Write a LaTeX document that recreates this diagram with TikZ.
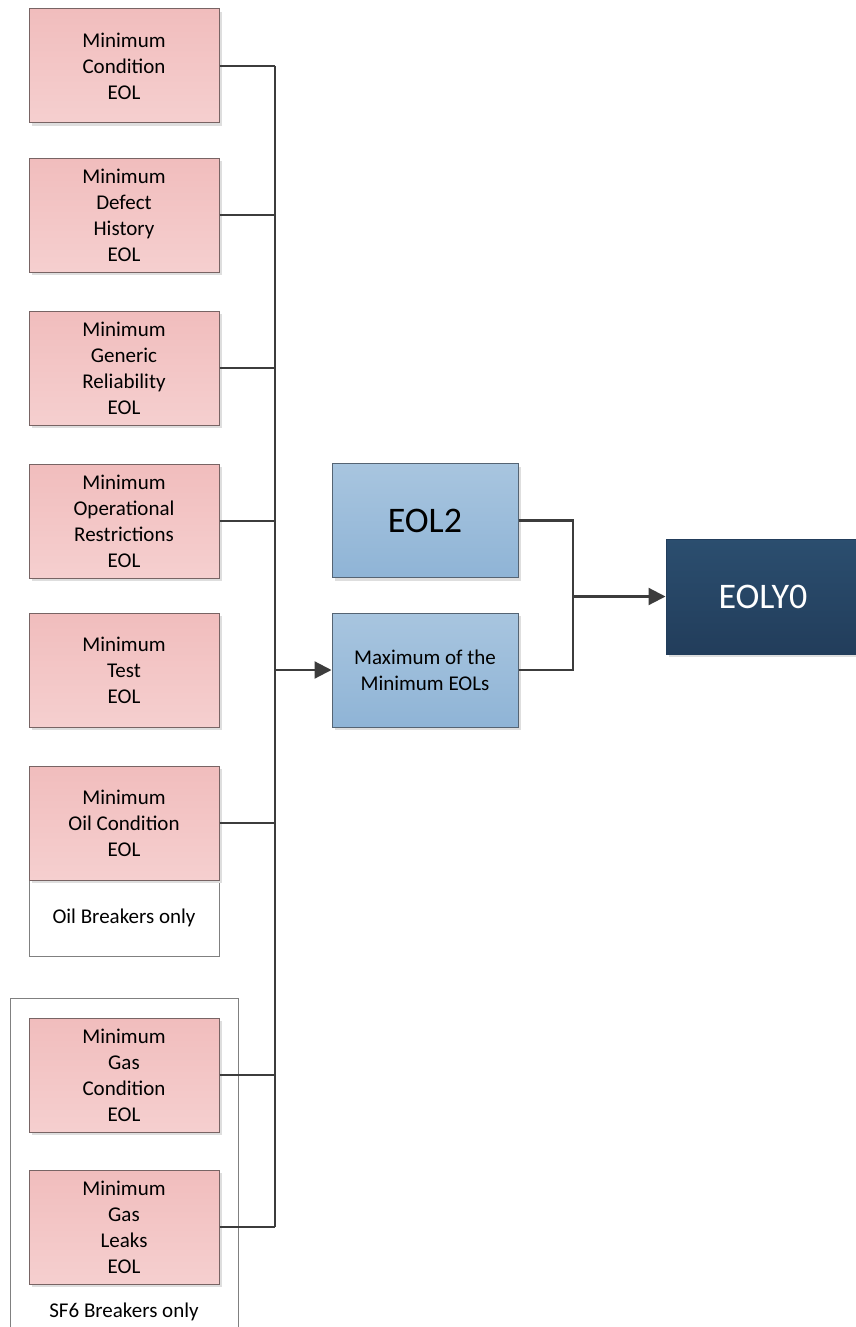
\documentclass[tikz,border=0pt]{standalone}
\usepackage{fontspec}
\setmainfont{Carlito}
\usetikzlibrary{arrows.meta,shadows}
\definecolor{pinkT}{RGB}{241,189,189}
\definecolor{pinkB}{RGB}{245,207,207}
\definecolor{pinkEdge}{RGB}{120,100,100}
\definecolor{blueT}{RGB}{168,197,223}
\definecolor{blueB}{RGB}{143,180,214}
\definecolor{blueEdge}{RGB}{85,100,115}
\definecolor{navyT}{RGB}{43,78,111}
\definecolor{navyB}{RGB}{34,61,91}
\definecolor{wireCol}{RGB}{60,60,60}
\definecolor{frameCol}{RGB}{128,128,128}
\tikzset{
  boxbase/.style={line width=1pt, inner sep=0pt, align=center,
    font=\fontsize{21}{26}\selectfont,
    drop shadow={shadow xshift=3pt, shadow yshift=-3pt, fill=black!13, opacity=1}},
  critbox/.style={boxbase, draw=pinkEdge, top color=pinkT, bottom color=pinkB,
    minimum width=190pt, minimum height=114pt},
  calcbox/.style={boxbase, draw=blueEdge, top color=blueT, bottom color=blueB,
    minimum width=186pt, minimum height=114pt},
  resultbox/.style={boxbase, draw=navyB, top color=navyT, bottom color=navyB,
    minimum width=194pt, minimum height=115pt, text=white,
    font=\fontsize{36}{40}\selectfont},
  notebox/.style={draw=frameCol, line width=0.8pt, fill=white, inner sep=0pt,
    minimum width=190pt, minimum height=76pt, font=\fontsize{21}{26}\selectfont},
  frame/.style={draw=frameCol, line width=0.8pt},
  wire/.style={draw=wireCol, line width=2.2pt},
  arr/.style={-{Triangle[length=17pt,width=17pt]}},
}
\begin{document}
\begin{tikzpicture}[x=1pt,y=-1pt]
\useasboundingbox (0,0) rectangle (856,1327);
\clip (0,0) rectangle (856,1327);
\fill[white] (0,0) rectangle (856,1327);

% SF6 group frame (open at the bottom of the page)
\draw[frame] (10,1340) -- (10,998) -- (238,998) -- (238,1340);
\node[font=\fontsize{21}{26}\selectfont] (sfnote) at (124,1312) {SF6 Breakers only};

% oil note under the oil condition box
\node[notebox] (oilnote) at (124,918) {Oil Breakers only};

% criteria boxes
\node[critbox] (c1) at (124,66)   {Minimum\\Condition\\EOL};
\node[critbox] (c2) at (124,215)  {Minimum\\Defect\\History\\EOL};
\node[critbox] (c3) at (124,368)  {Minimum\\Generic\\Reliability\\EOL};
\node[critbox] (c4) at (124,521)  {Minimum\\Operational\\Restrictions\\EOL};
\node[critbox] (c5) at (124,670)  {Minimum\\Test\\EOL};
\node[critbox] (c6) at (124,823)  {Minimum\\Oil Condition\\EOL};
\node[critbox] (c7) at (124,1075) {Minimum\\Gas\\Condition\\EOL};
\node[critbox] (c8) at (124,1227) {Minimum\\Gas\\Leaks\\EOL};

% calculation boxes
\node[calcbox, font=\fontsize{36}{40}\selectfont] (eol2) at (425,520.5) {EOL2};
\node[calcbox] (maxm) at (425,670) {Maximum of the\\Minimum EOLs};
\node[resultbox] (eoly) at (763,596.5) {EOLY0};

% bus and junction columns
\coordinate (busx) at (275,0);
\coordinate (jx) at (573,0);

\foreach \b in {c1,c2,c3,c4,c6,c7,c8}
  \draw[wire] (\b.east) -- (\b.east -| busx);
\draw[wire] (c1.east -| busx) -- (c8.east -| busx);
\draw[wire,arr] (maxm.west -| busx) -- (maxm.west);

\draw[wire] (eol2.east) -- (eol2.east -| jx) -- (maxm.east -| jx) -- (maxm.east);
\draw[wire,arr] (eoly.west -| jx) -- (eoly.west);
\end{tikzpicture}
\end{document}
